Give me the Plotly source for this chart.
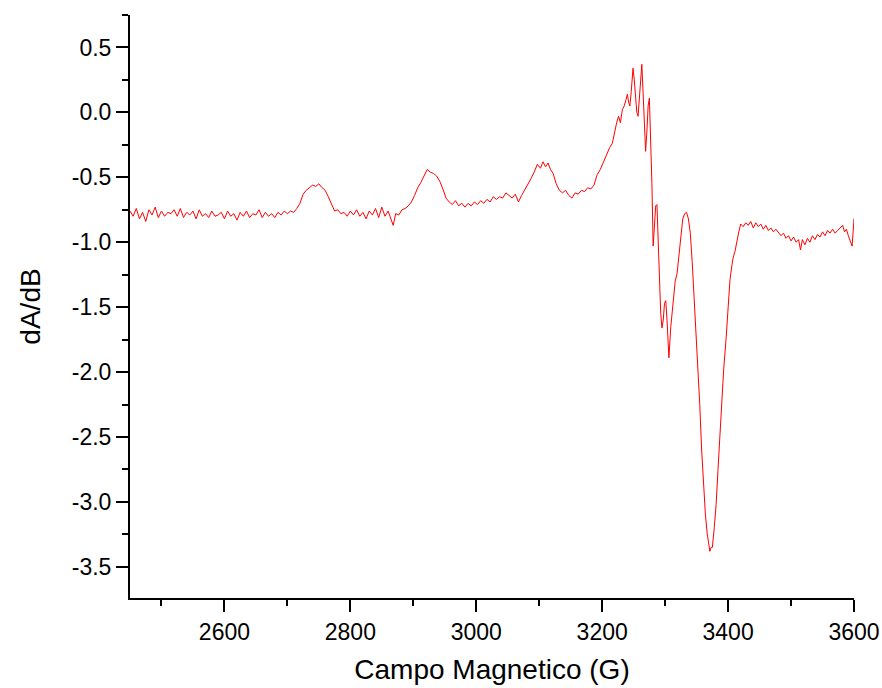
import plotly.graph_objects as go

# EPR spectrum
campo = [
    2450, 2455, 2460, 2465, 2470, 2475, 2480, 2485, 2490, 2495,
    2500, 2505, 2510, 2515, 2520, 2525, 2530, 2535, 2540, 2545,
    2550, 2555, 2560, 2565, 2570, 2575, 2580, 2585, 2590, 2595,
    2600, 2605, 2610, 2615, 2620, 2625, 2630, 2635, 2640, 2645,
    2650, 2655, 2660, 2665, 2670, 2675, 2680, 2685, 2690, 2695,
    2700, 2705, 2710, 2715, 2720, 2725, 2730, 2735, 2740, 2745,
    2750, 2755, 2760, 2765, 2770, 2775, 2780, 2785, 2790, 2795,
    2800, 2805, 2810, 2815, 2820, 2825, 2830, 2835, 2840, 2845,
    2850, 2855, 2860, 2865, 2868, 2872, 2877, 2882, 2887, 2892,
    2897, 2902, 2907, 2912, 2917, 2922, 2927, 2932, 2937, 2942,
    2947, 2952, 2957, 2962, 2967, 2972, 2977, 2982, 2987, 2992,
    2997, 3002, 3007, 3012, 3017, 3022, 3027, 3032, 3037, 3042,
    3047, 3052, 3057, 3062, 3067, 3072, 3077, 3082, 3087, 3092,
    3097, 3102, 3106, 3110, 3114, 3118, 3122, 3127, 3132, 3137,
    3142, 3147, 3152, 3157, 3162, 3167, 3172, 3177, 3182, 3187,
    3192, 3197, 3202, 3207, 3212, 3216, 3220, 3223, 3226, 3229,
    3232, 3235, 3238, 3240, 3242, 3244, 3246, 3249, 3251, 3253,
    3255, 3257, 3259, 3261, 3263, 3265, 3267, 3269, 3271, 3273,
    3275, 3277, 3279, 3281, 3283, 3285, 3287, 3289, 3291, 3293,
    3295, 3297, 3299, 3301, 3303, 3306, 3309, 3313, 3316, 3319,
    3322, 3325, 3328, 3331, 3334, 3337, 3340, 3343, 3346, 3349,
    3352, 3355, 3358, 3361, 3364, 3367, 3369, 3371, 3373, 3375,
    3378, 3381, 3384, 3387, 3390, 3393, 3397, 3400, 3403, 3406,
    3408, 3411, 3414, 3417, 3420, 3424, 3428, 3432, 3436, 3440,
    3444, 3448, 3452, 3456, 3460, 3464, 3468, 3472, 3476, 3480,
    3484, 3488, 3492, 3496, 3500, 3504, 3508, 3512, 3515, 3518,
    3522, 3526, 3530, 3534, 3538, 3542, 3546, 3550, 3554, 3558,
    3562, 3566, 3570, 3574, 3578, 3582, 3585, 3588, 3591, 3594,
    3597, 3600,
]
dadb = [
    -0.76, -0.80, -0.74, -0.82, -0.77, -0.84, -0.75, -0.79, -0.73, -0.81,
    -0.76, -0.80, -0.77, -0.78, -0.75, -0.80, -0.74, -0.81, -0.77, -0.79,
    -0.76, -0.82, -0.75, -0.80, -0.78, -0.81, -0.76, -0.80, -0.79, -0.77,
    -0.82, -0.76, -0.80, -0.78, -0.83, -0.77, -0.80, -0.76, -0.81, -0.78,
    -0.79, -0.75, -0.81, -0.77, -0.80, -0.78, -0.81, -0.77, -0.79, -0.76,
    -0.78, -0.76, -0.77, -0.74, -0.70, -0.63, -0.60, -0.58, -0.56, -0.57,
    -0.55, -0.58, -0.60, -0.65, -0.71, -0.76, -0.75, -0.78, -0.77, -0.80,
    -0.76, -0.79, -0.75, -0.80, -0.77, -0.82, -0.76, -0.79, -0.74, -0.81,
    -0.73, -0.80, -0.76, -0.84, -0.87, -0.78, -0.79, -0.75, -0.74, -0.72,
    -0.69, -0.64, -0.58, -0.54, -0.49, -0.44, -0.46, -0.47, -0.49, -0.53,
    -0.59, -0.66, -0.69, -0.71, -0.68, -0.72, -0.70, -0.73, -0.70, -0.72,
    -0.69, -0.71, -0.68, -0.70, -0.67, -0.69, -0.65, -0.67, -0.65, -0.66,
    -0.62, -0.64, -0.66, -0.63, -0.69, -0.64, -0.60, -0.56, -0.51, -0.46,
    -0.40, -0.43, -0.38, -0.42, -0.39, -0.44, -0.47, -0.55, -0.60, -0.62,
    -0.60, -0.64, -0.66, -0.62, -0.63, -0.60, -0.61, -0.58, -0.59, -0.56,
    -0.48, -0.44, -0.38, -0.32, -0.27, -0.24, -0.14, -0.08, -0.03, -0.08,
    0.02, 0.05, 0.10, 0.14, 0.08, 0.05, 0.15, 0.34, 0.25, 0.12,
    0.00, -0.03, 0.12, 0.30, 0.37, 0.15, -0.10, -0.30, -0.15, 0.05,
    0.11, -0.20, -0.55, -1.03, -0.90, -0.72, -0.71, -1.00, -1.30, -1.55,
    -1.66, -1.60, -1.47, -1.45, -1.60, -1.89, -1.65, -1.41, -1.30, -1.24,
    -1.10, -0.93, -0.82, -0.78, -0.77, -0.82, -0.93, -1.15, -1.42, -1.70,
    -1.95, -2.25, -2.60, -2.90, -3.10, -3.25, -3.33, -3.38, -3.35, -3.35,
    -3.20, -3.02, -2.75, -2.48, -2.20, -1.98, -1.73, -1.50, -1.29, -1.18,
    -1.12, -1.07, -0.98, -0.92, -0.86, -0.88, -0.85, -0.87, -0.84, -0.89,
    -0.85, -0.88, -0.86, -0.90, -0.87, -0.91, -0.89, -0.92, -0.90, -0.93,
    -0.95, -0.93, -0.97, -0.95, -0.99, -0.96, -1.00, -0.98, -1.06, -0.98,
    -1.02, -0.97, -1.00, -0.95, -0.98, -0.94, -0.96, -0.92, -0.95, -0.91,
    -0.93, -0.90, -0.93, -0.91, -0.89, -0.87, -0.92, -0.90, -0.95, -0.99,
    -1.03, -0.82,
]

x_ticks = [2600, 2800, 3000, 3200, 3400, 3600]
x_minor = [2500, 2700, 2900, 3100, 3300, 3500]
y_ticks = [0.5, 0.0, -0.5, -1.0, -1.5, -2.0, -2.5, -3.0, -3.5]
y_labels = ["0.5", "0.0", "-0.5", "-1.0", "-1.5", "-2.0", "-2.5", "-3.0", "-3.5"]
y_minor = [0.75, 0.25, -0.25, -0.75, -1.25, -1.75, -2.25, -2.75, -3.25]

fig = go.Figure()
fig.add_trace(go.Scatter(
    x=campo, y=dadb, mode="lines",
    line=dict(color="#ff0000", width=1),
    showlegend=False,
))

axis_style = dict(
    showline=True, linecolor="black", linewidth=2,
    ticks="outside", ticklen=12, tickwidth=2, tickcolor="black",
    showgrid=False, zeroline=False, mirror=False, automargin=False,
    tickfont=dict(size=23, color="black"),
)

fig.update_xaxes(
    range=[2450, 3600],
    tickmode="array", tickvals=x_ticks,
    minor=dict(tickmode="array", tickvals=x_minor, ticks="outside",
               ticklen=6, tickwidth=2, tickcolor="black", showgrid=False),
    title=dict(text="Campo Magnetico (G)", font=dict(size=28, color="black"), standoff=16),
    **axis_style,
)
fig.update_yaxes(
    range=[-3.74, 0.75],
    tickmode="array", tickvals=y_ticks, ticktext=y_labels,
    minor=dict(tickmode="array", tickvals=y_minor, ticks="outside",
               ticklen=6, tickwidth=2, tickcolor="black", showgrid=False),
    title=dict(text="dA/dB", font=dict(size=28, color="black"), standoff=23),
    **axis_style,
)

fig.update_layout(
    width=882, height=688,
    margin=dict(l=130, r=28, t=15, b=90),
    paper_bgcolor="white", plot_bgcolor="white",
    font=dict(family="Liberation Sans, Arial, sans-serif", color="black"),
)

# drop the default body margin so the figure fills the window exactly
fig.write_html("out.html",
               config={"displayModeBar": False},
               post_script="document.body.style.margin='0';document.body.style.overflow='hidden';")
